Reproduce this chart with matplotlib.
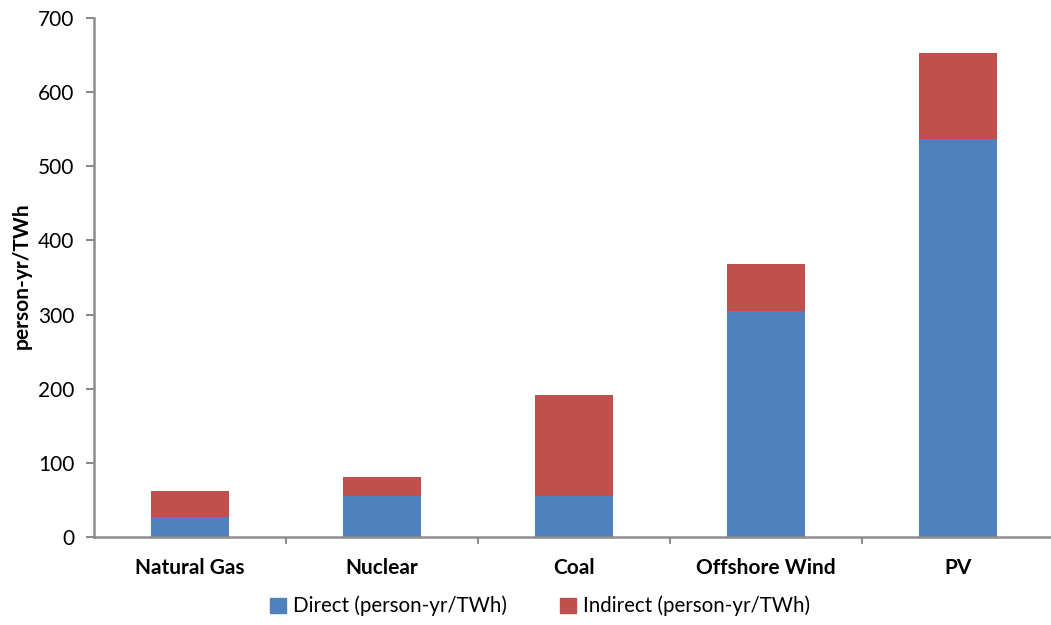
import matplotlib
matplotlib.use("Agg")
import matplotlib.pyplot as plt
from matplotlib.patches import Patch

plt.rcParams["font.family"] = ["Lato", "DejaVu Sans"]

categories = ["Natural Gas", "Nuclear", "Coal", "Offshore Wind", "PV"]
direct = [27, 55, 55, 305, 537]
indirect = [35, 26, 136, 63, 116]

blue = "#4F81BD"
red = "#C0504D"
axis_grey = "#8C8C8C"

fig = plt.figure(figsize=(10.51, 6.25), dpi=100)
ax = fig.add_axes([94 / 1051, 1 - 537 / 625, (1051 - 94) / 1051, (537 - 18) / 625])

x = list(range(len(categories)))
ax.bar(x, direct, width=0.405, color=blue, edgecolor="none")
ax.bar(x, indirect, width=0.405, bottom=direct, color=red, edgecolor="none")

ax.set_ylim(0, 700)
ax.set_xlim(-0.5, -0.5 + 957 / 192)
ax.set_yticks(range(0, 701, 100))
ax.set_xticks(x)
ax.set_xticklabels(categories, fontsize=15, fontweight="bold")
ax.set_xticks([i + 0.5 for i in range(len(categories) - 1)], minor=True)
ax.tick_params(axis="x", which="major", length=0, pad=15)
ax.tick_params(axis="x", which="minor", length=5, color=axis_grey, width=1.5, direction="out")
ax.tick_params(axis="y", length=6, color=axis_grey, width=1.5, labelsize=15, pad=8)

for side in ["top", "right"]:
    ax.spines[side].set_visible(False)
for side in ["left", "bottom"]:
    ax.spines[side].set_color(axis_grey)
    ax.spines[side].set_linewidth(1.8)

fig.text(22 / 1051, 1 - 276 / 625, "person-yr/TWh", rotation=90, ha="center", va="center",
         fontsize=15, fontweight="bold")

handles = [Patch(color=blue, label="Direct (person-yr/TWh)"),
           Patch(color=red, label="Indirect (person-yr/TWh)")]
fig.legend(handles=handles, loc="center", bbox_to_anchor=(540 / 1051, 1 - 606 / 625), ncol=2,
           frameon=False, fontsize=14.8, handlelength=0.75, handleheight=0.75,
           handletextpad=0.35, columnspacing=2.6)

fig.savefig("out.png", dpi=100)
